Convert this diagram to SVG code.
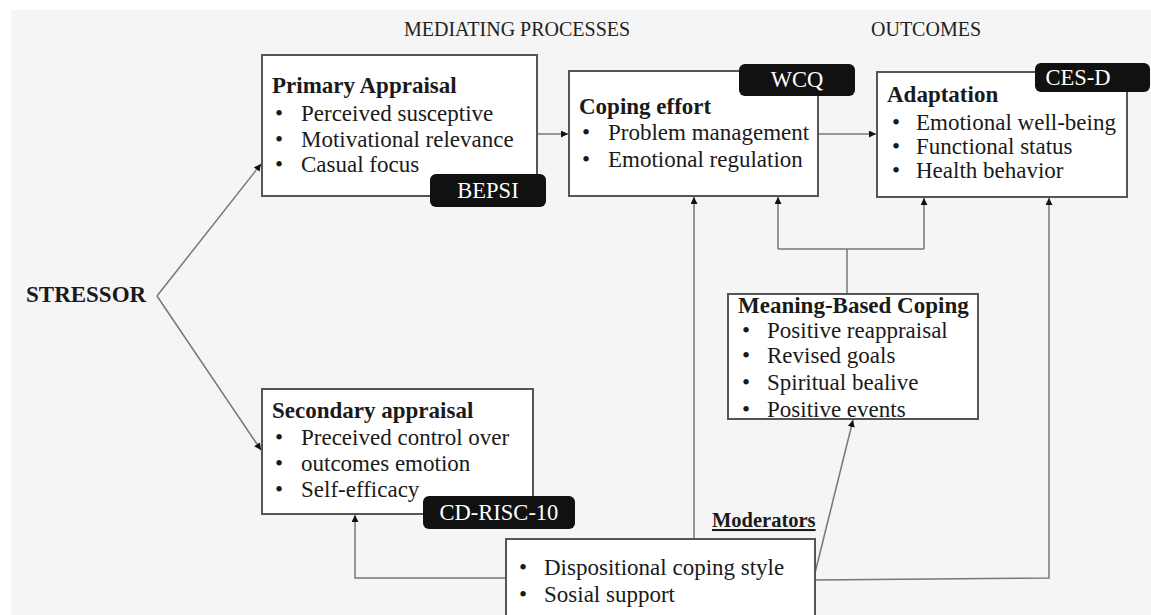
<svg xmlns="http://www.w3.org/2000/svg" width="1151" height="615" viewBox="0 0 1151 615">
<defs>
<style>
.bg{fill:#f5f5f5}
.box{fill:#fff;stroke:#555;stroke-width:2}
.badge{fill:#111;stroke:none}
.t{font-family:"Liberation Serif","Times New Roman",serif;font-size:23px;fill:#1a1a1a}
.b{font-weight:bold}
.bt{font-family:"Liberation Serif","Times New Roman",serif;font-size:22.5px;fill:#fff;text-anchor:middle}
.hd{font-family:"Liberation Serif","Times New Roman",serif;font-size:20px;fill:#222}
.c{fill:none;stroke:#777;stroke-width:1.5}
</style>
<marker id="ah" viewBox="0 0 10 10" refX="10" refY="5" markerWidth="7" markerHeight="7" markerUnits="userSpaceOnUse" orient="auto">
<path d="M0,0 L10,5 L0,10 z" fill="#111"/>
</marker>
</defs>
<rect x="0" y="0" width="1151" height="615" fill="#fff"/>
<rect class="bg" x="11" y="10" width="1140" height="605"/>

<g id="headers">
<text class="hd" x="404" y="36">MEDIATING PROCESSES</text>
<text class="hd" x="871" y="36">OUTCOMES</text>
</g>

<g id="connectors">
<line class="c" x1="157" y1="296" x2="261" y2="164" marker-end="url(#ah)"/>
<line class="c" x1="157" y1="296" x2="261" y2="450" marker-end="url(#ah)"/>
<line class="c" x1="537" y1="134" x2="568" y2="134" marker-end="url(#ah)"/>
<line class="c" x1="818" y1="134" x2="876" y2="134" marker-end="url(#ah)"/>
<line class="c" x1="847" y1="294" x2="847" y2="249"/>
<line class="c" x1="778" y1="249" x2="924" y2="249"/>
<line class="c" x1="778" y1="249" x2="778" y2="197" marker-end="url(#ah)"/>
<line class="c" x1="924" y1="249" x2="924" y2="198" marker-end="url(#ah)"/>
<line class="c" x1="694" y1="539" x2="694" y2="197" marker-end="url(#ah)"/>
<polyline class="c" points="506,578 355,578 355,515" marker-end="url(#ah)"/>
<line class="c" x1="815" y1="573" x2="853" y2="420" marker-end="url(#ah)"/>
<polyline class="c" points="815,580 1049,578 1049,198" marker-end="url(#ah)"/>
</g>

<g id="stressor">
<text class="t b" x="26" y="302">STRESSOR</text>
</g>

<g id="primary">
<rect class="box" x="262" y="55" width="275" height="141"/>
<text class="t b" x="272" y="93">Primary Appraisal</text>
<text class="t" x="275" y="121">•</text><text class="t" x="301" y="121">Perceived susceptive</text>
<text class="t" x="275" y="147">•</text><text class="t" x="301" y="147">Motivational relevance</text>
<text class="t" x="275" y="172">•</text><text class="t" x="301" y="172">Casual focus</text>
<rect class="badge" x="430" y="174" width="116" height="33" rx="6"/>
<text class="bt" x="488" y="198">BEPSI</text>
</g>

<g id="coping">
<rect class="box" x="569" y="71" width="249" height="125"/>
<text class="t b" x="579" y="114">Coping effort</text>
<text class="t" x="582" y="140">•</text><text class="t" x="608" y="140">Problem management</text>
<text class="t" x="582" y="167">•</text><text class="t" x="608" y="167">Emotional regulation</text>
<rect class="badge" x="739" y="64" width="116" height="32" rx="6"/>
<text class="bt" x="797" y="87">WCQ</text>
</g>

<g id="adaptation">
<rect class="box" x="877" y="72" width="250" height="125"/>
<text class="t b" x="887" y="102">Adaptation</text>
<text class="t" x="892" y="130">•</text><text class="t" x="916" y="130">Emotional well-being</text>
<text class="t" x="892" y="154">•</text><text class="t" x="916" y="154">Functional status</text>
<text class="t" x="892" y="178">•</text><text class="t" x="916" y="178">Health behavior</text>
<rect class="badge" x="1035" y="63" width="115" height="29" rx="6"/>
<text class="bt" x="1078" y="85">CES-D</text>
</g>

<g id="secondary">
<rect class="box" x="262" y="389" width="271" height="125"/>
<text class="t b" x="272" y="418">Secondary appraisal</text>
<text class="t" x="275" y="445">•</text><text class="t" x="301" y="445">Preceived control over</text>
<text class="t" x="275" y="471">•</text><text class="t" x="301" y="471">outcomes emotion</text>
<text class="t" x="275" y="497">•</text><text class="t" x="301" y="497">Self-efficacy</text>
<rect class="badge" x="423" y="496" width="152" height="33" rx="6"/>
<text class="bt" x="499" y="520">CD-RISC-10</text>
</g>

<g id="meaning">
<rect class="box" x="728" y="294" width="250" height="125"/>
<text class="t b" x="738" y="313">Meaning-Based Coping</text>
<text class="t" x="742" y="338">•</text><text class="t" x="767" y="338">Positive reappraisal</text>
<text class="t" x="742" y="363">•</text><text class="t" x="767" y="363">Revised goals</text>
<text class="t" x="742" y="390">•</text><text class="t" x="767" y="390">Spiritual bealive</text>
<text class="t" x="742" y="417">•</text><text class="t" x="767" y="417">Positive events</text>
</g>

<g id="moderators">
<text class="t b" x="712" y="527" style="font-size:20.5px" text-decoration="underline">Moderators</text>
<rect class="box" x="506" y="539" width="309" height="85"/>
<text class="t" x="519" y="575">•</text><text class="t" x="544" y="575">Dispositional coping style</text>
<text class="t" x="519" y="602">•</text><text class="t" x="544" y="602">Sosial support</text>
</g>
</svg>
